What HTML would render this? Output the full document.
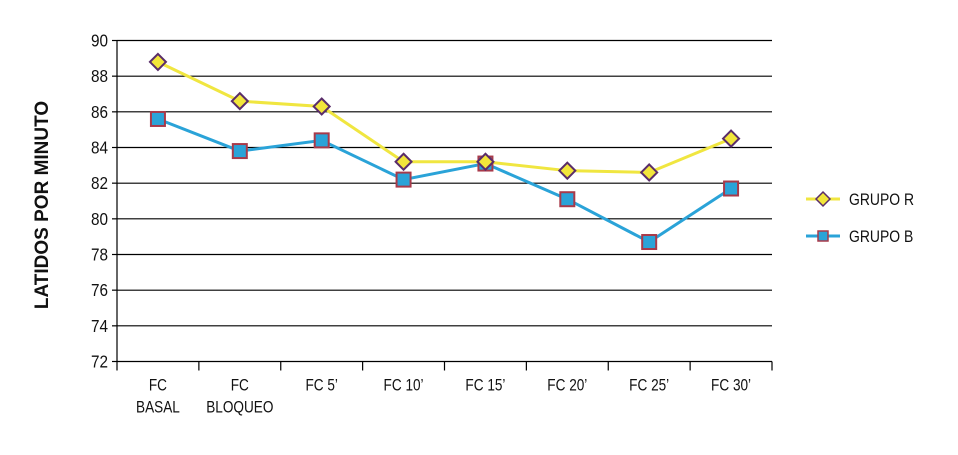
<!DOCTYPE html>
<html><head><meta charset="utf-8"><style>
body{margin:0;background:#fff;}
svg text{font-family:"Liberation Sans Narrow","Liberation Sans",sans-serif;fill:#111;}
</style></head><body>
<svg id="chart" width="958" height="450" viewBox="0 0 958 450" xmlns="http://www.w3.org/2000/svg">
<g id="grid"></g>
<g id="axes"></g>
<g id="series"></g>
<text transform="translate(48,205) rotate(-90)" text-anchor="middle" font-size="19" font-weight="bold">LATIDOS POR MINUTO</text>
<g>
  <g>
    <line x1="806" y1="199" x2="840" y2="199" stroke="#f0e640" stroke-width="3"/>
    <polygon points="823,192 830,199 823,206 816,199" fill="#f2e63a" stroke="#5a2d6a" stroke-width="1.5"/>
    <text transform="translate(849,205) scale(0.82,1)" font-size="17">GRUPO R</text>
  </g>
  <g>
    <line x1="806" y1="236" x2="840" y2="236" stroke="#2aa3d8" stroke-width="3"/>
    <rect x="818" y="231" width="10" height="10" fill="#2aa3d8" stroke="#a83a4a" stroke-width="1.5"/>
    <text transform="translate(849,242) scale(0.82,1)" font-size="17">GRUPO B</text>
  </g>
</g>
</svg>
<script>
const categories = [["FC","BASAL"],["FC","BLOQUEO"],["FC 5’"],["FC 10’"],["FC 15’"],["FC 20’"],["FC 25’"],["FC 30’"]];
const grupoR = [88.8, 86.6, 86.3, 83.2, 83.2, 82.7, 82.6, 84.5];
const grupoB = [85.6, 83.8, 84.4, 82.2, 83.1, 81.1, 78.7, 81.7];
const yTicks = [72,74,76,78,80,82,84,86,88,90];

const NS="http://www.w3.org/2000/svg";
const L=117,R=772,T=40.5,B=361.5,yMin=72,yMax=90;
const bw=(R-L)/categories.length;
function xs(i){return L+bw*(i+0.5);}
function ys(v){return B-(v-yMin)/(yMax-yMin)*(B-T);}
function mk(tag,attrs,parent){const e=document.createElementNS(NS,tag);for(const k in attrs)e.setAttribute(k,attrs[k]);parent.appendChild(e);return e;}
const grid=document.getElementById('grid'),axes=document.getElementById('axes'),series=document.getElementById('series');
yTicks.forEach(v=>{
  const y=ys(v);
  const g=mk('line',{x1:L,x2:R,y1:y,y2:y,stroke:'#000','stroke-width':1.2},grid);
  
  
  mk('line',{x1:L-5,x2:L,y1:y,y2:y,stroke:'#000','stroke-width':1.2},axes);
  const t=mk('text',{transform:`translate(${L-9},${y+6}) scale(0.85,1)`,'text-anchor':'end','font-size':18},axes);
  t.textContent=v;
  
  
});
const ya=mk('line',{x1:L,x2:L,y1:T,y2:B,stroke:'#000','stroke-width':1.2},axes);


for(let i=0;i<=categories.length;i++){
  const x=L+bw*i;
  mk('line',{x1:x,x2:x,y1:B,y2:B+9,stroke:'#000','stroke-width':1.2},axes);
}
categories.forEach((c,i)=>{
  c.forEach((s,j)=>{
    const t=mk('text',{transform:`translate(${xs(i)},${B+29+j*22}) scale(0.8,1)`,'text-anchor':'middle','font-size':17},axes);
    t.textContent=s;
    
    
  });
});
function drawLine(vals,color,name){
  const p=mk('polyline',{points:vals.map((v,i)=>xs(i)+','+ys(v)).join(' '),fill:'none',stroke:color,'stroke-width':3},series);
  
  
}
drawLine(grupoR,'#f0e640','grupo-r');
drawLine(grupoB,'#2aa3d8','grupo-b');
grupoB.forEach((v,i)=>{
  const r=mk('rect',{x:xs(i)-7,y:ys(v)-7,width:14,height:14,fill:'#2aa3d8',stroke:'#a83a4a','stroke-width':2},series);
  
  
});
grupoR.forEach((v,i)=>{
  const x=xs(i),y=ys(v);
  const p=mk('polygon',{points:`${x},${y-8} ${x+8},${y} ${x},${y+8} ${x-8},${y}`,fill:'#f2e63a',stroke:'#5a2d6a','stroke-width':2},series);
  
  
});
</script>
</body></html>
